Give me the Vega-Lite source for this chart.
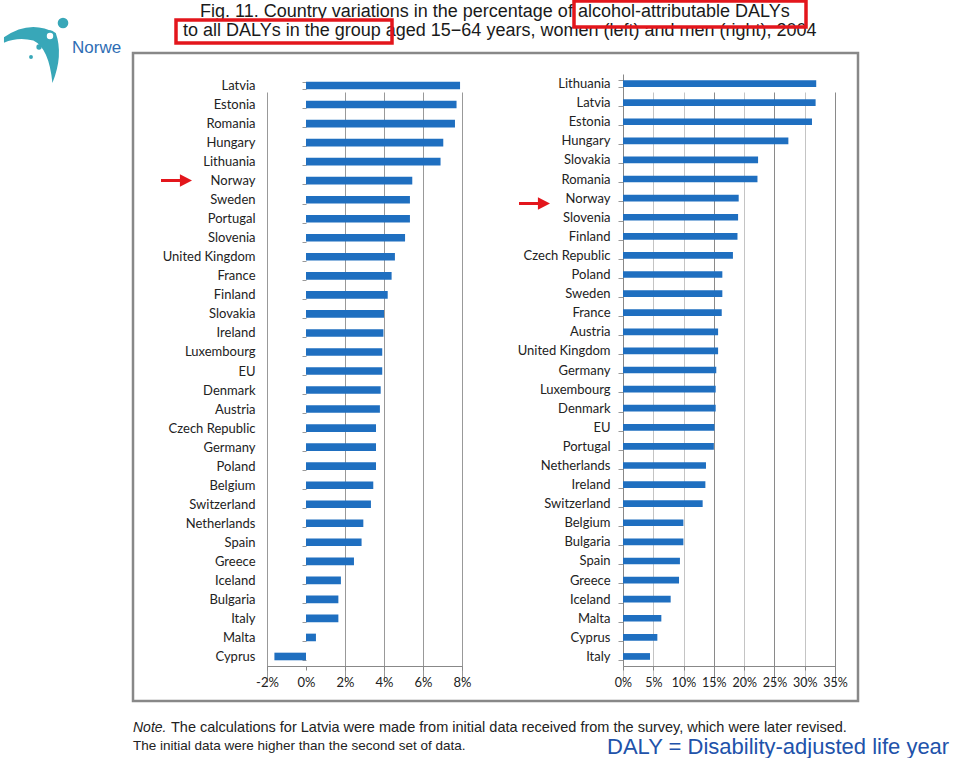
{
  "$schema": "https://vega.github.io/schema/vega-lite/v6.json",
  "width": 960,
  "height": 758,
  "autosize": {"type": "none"},
  "padding": 0,
  "background": "white",
  "config": {"view": {"stroke": null}, "font": "Liberation Sans"},
  "datasets": {
    "women": [
      {"country": "Latvia", "value": 7.9},
      {"country": "Estonia", "value": 7.72},
      {"country": "Romania", "value": 7.64},
      {"country": "Hungary", "value": 7.04},
      {"country": "Lithuania", "value": 6.9},
      {"country": "Norway", "value": 5.45},
      {"country": "Sweden", "value": 5.33},
      {"country": "Portugal", "value": 5.33},
      {"country": "Slovenia", "value": 5.08},
      {"country": "United Kingdom", "value": 4.56},
      {"country": "France", "value": 4.39},
      {"country": "Finland", "value": 4.19},
      {"country": "Slovakia", "value": 4.0},
      {"country": "Ireland", "value": 3.97},
      {"country": "Luxembourg", "value": 3.91},
      {"country": "EU", "value": 3.91},
      {"country": "Denmark", "value": 3.83},
      {"country": "Austria", "value": 3.79},
      {"country": "Czech Republic", "value": 3.59},
      {"country": "Germany", "value": 3.59},
      {"country": "Poland", "value": 3.59},
      {"country": "Belgium", "value": 3.45},
      {"country": "Switzerland", "value": 3.33},
      {"country": "Netherlands", "value": 2.94},
      {"country": "Spain", "value": 2.85},
      {"country": "Greece", "value": 2.46},
      {"country": "Iceland", "value": 1.79},
      {"country": "Bulgaria", "value": 1.66},
      {"country": "Italy", "value": 1.66},
      {"country": "Malta", "value": 0.51},
      {"country": "Cyprus", "value": -1.62}
    ],
    "men": [
      {"country": "Lithuania", "value": 31.9},
      {"country": "Latvia", "value": 31.8},
      {"country": "Estonia", "value": 31.2},
      {"country": "Hungary", "value": 27.3},
      {"country": "Slovakia", "value": 22.3},
      {"country": "Romania", "value": 22.2},
      {"country": "Norway", "value": 19.1},
      {"country": "Slovenia", "value": 19.0},
      {"country": "Finland", "value": 18.9},
      {"country": "Czech Republic", "value": 18.15},
      {"country": "Poland", "value": 16.4},
      {"country": "Sweden", "value": 16.4},
      {"country": "France", "value": 16.3},
      {"country": "Austria", "value": 15.7},
      {"country": "United Kingdom", "value": 15.7},
      {"country": "Germany", "value": 15.4},
      {"country": "Luxembourg", "value": 15.3},
      {"country": "Denmark", "value": 15.3},
      {"country": "EU", "value": 15.1},
      {"country": "Portugal", "value": 15.0},
      {"country": "Netherlands", "value": 13.7},
      {"country": "Ireland", "value": 13.6},
      {"country": "Switzerland", "value": 13.15},
      {"country": "Belgium", "value": 9.97},
      {"country": "Bulgaria", "value": 9.97},
      {"country": "Spain", "value": 9.4},
      {"country": "Greece", "value": 9.25},
      {"country": "Iceland", "value": 7.87},
      {"country": "Malta", "value": 6.33},
      {"country": "Cyprus", "value": 5.67},
      {"country": "Italy", "value": 4.46}
    ]
  },
  "layer": [
    {
      "data": {"values": [{}]},
      "mark": {"type": "point", "x": 30, "y": 54, "size": 3136, "filled": true, "fill": "#38a7b8", "opacity": 1, "strokeWidth": 0,
        "shape": "M -0.93 -0.6 Q 0 -1.25 0.92 -0.75 Q 1.2 0.04 0.8 1.04 Q 0.68 -0.21 0.12 -0.48 Q -0.43 -0.62 -0.93 -0.4 Z"},
      "encoding": {}
    },
    {
      "data": {"values": [{}]},
      "mark": {"type": "point", "x": 63, "y": 23, "size": 113, "shape": "circle", "filled": true, "fill": "#38a7b8", "opacity": 1, "strokeWidth": 0},
      "encoding": {}
    },
    {
      "data": {"values": [{}]},
      "mark": {"type": "point", "x": 50, "y": 36, "size": 80, "shape": "circle", "filled": true, "fill": "white", "stroke": "#38a7b8", "strokeWidth": 2.5, "opacity": 1},
      "encoding": {}
    },
    {
      "data": {"values": [{}]},
      "mark": {"type": "point", "x": 39, "y": 47, "size": 28, "shape": "circle", "filled": true, "fill": "#38a7b8", "opacity": 1, "strokeWidth": 0},
      "encoding": {}
    },
    {
      "data": {"values": [{}]},
      "mark": {"type": "point", "x": 31, "y": 57, "size": 15, "shape": "circle", "filled": true, "fill": "#38a7b8", "opacity": 1, "strokeWidth": 0},
      "encoding": {}
    },
    {
      "data": {"values": [{}]},
      "mark": {"type": "text", "x": 72, "y": 53, "text": "Norwe", "align": "left", "baseline": "alphabetic", "fontSize": 17, "color": "#2e6db4"},
      "encoding": {}
    },
    {
      "data": {"values": [{}]},
      "mark": {"type": "rect", "x": 123, "x2": 134, "y": 35, "y2": 62, "fill": "white"},
      "encoding": {}
    },
    {
      "data": {"values": [{}]},
      "mark": {"type": "rect", "x": 133, "x2": 858, "y": 53, "y2": 701, "fill": "white", "fillOpacity": 0, "stroke": "#888888", "strokeWidth": 2.5},
      "encoding": {}
    },
    {
      "data": {"values": [{}]},
      "mark": {"type": "text", "x": 200, "y": 17, "text": "Fig. 11. Country variations in the percentage of alcohol-attributable DALYs", "align": "left", "baseline": "alphabetic", "fontSize": 18, "color": "#1a1a1a"},
      "encoding": {}
    },
    {
      "data": {"values": [{}]},
      "mark": {"type": "text", "x": 183, "y": 36, "text": "to all DALYs in the group aged 15−64 years, women (left) and men (right), 2004", "align": "left", "baseline": "alphabetic", "fontSize": 18, "color": "#1a1a1a"},
      "encoding": {}
    },
    {
      "data": {"values": [{}]},
      "mark": {"type": "rect", "x": 574, "x2": 806, "y": 1, "y2": 27, "fill": "white", "fillOpacity": 0, "stroke": "#e3161c", "strokeWidth": 3.5},
      "encoding": {}
    },
    {
      "data": {"values": [{}]},
      "mark": {"type": "rect", "x": 176, "x2": 392, "y": 20, "y2": 43, "fill": "white", "fillOpacity": 0, "stroke": "#e3161c", "strokeWidth": 3.5},
      "encoding": {}
    },
    {
      "data": {"name": "women"},
      "mark": {"type": "bar", "color": "#1f6fc0"},
      "encoding": {
        "y": {
          "field": "country", "type": "nominal", "sort": null,
          "scale": {"range": [76, 666], "paddingInner": 0.6, "paddingOuter": 0.3},
          "axis": {"title": null, "orient": "left", "offset": -306, "domain": false, "ticks": true, "tickBand": "extent", "tickSize": 4, "tickColor": "#999999", "labelPadding": 47, "labelFont": "Lato", "labelFontSize": 13, "labelColor": "#222222", "grid": false}
        },
        "x": {
          "field": "value", "type": "quantitative",
          "scale": {"domain": [-2, 8], "range": [267, 462], "nice": false, "zero": false},
          "axis": {"title": null, "orient": "bottom", "offset": -92, "values": [-2, 0, 2, 4, 6, 8], "labelExpr": "datum.value + '%'", "labelOverlap": false, "labelFlush": false, "grid": true,
            "gridColor": {"condition": {"test": "datum.value === 0", "value": "transparent"}, "value": "#999999"},
            "domainColor": "#888888", "tickColor": "#888888", "tickSize": 4, "labelPadding": 6, "labelFont": "Lato", "labelFontSize": 13, "labelColor": "#222222"}
        }
      }
    },
    {
      "data": {"name": "men"},
      "mark": {"type": "bar", "color": "#1f6fc0"},
      "encoding": {
        "y": {
          "field": "country", "type": "nominal", "sort": null,
          "scale": {"range": [74, 666], "paddingInner": 0.65, "paddingOuter": 0.325},
          "axis": {"title": null, "orient": "left", "offset": -623, "domain": true, "domainColor": "#888888", "ticks": true, "tickBand": "extent", "tickSize": 5, "tickColor": "#999999", "labelPadding": 8, "labelFont": "Lato", "labelFontSize": 13, "labelColor": "#222222", "grid": false}
        },
        "x": {
          "field": "value", "type": "quantitative",
          "scale": {"domain": [0, 35], "range": [623, 835], "nice": false, "zero": false},
          "axis": {"title": null, "orient": "bottom", "offset": -92, "values": [0, 5, 10, 15, 20, 25, 30, 35], "labelExpr": "datum.value + '%'", "labelOverlap": false, "labelFlush": false, "grid": true,
            "gridColor": {"condition": {"test": "datum.value === 15 || datum.value === 25 || datum.value === 35", "value": "#8a8a8a"}, "value": "#c4c4c4"},
            "domainColor": "#888888", "tickColor": "#888888", "tickSize": 4, "labelPadding": 6, "labelFont": "Lato", "labelFontSize": 12.5, "labelColor": "#222222"}
        }
      }
    },
    {
      "data": {"values": [{}]},
      "mark": {"type": "point", "x": 176.5, "y": 180.5, "size": 961, "filled": true, "fill": "#e3161c", "opacity": 1, "strokeWidth": 0,
        "shape": "M -1 -0.1 L 0.22 -0.1 L 0.22 -0.4 L 1 0 L 0.22 0.4 L 0.22 0.1 L -1 0.1 Z"},
      "encoding": {}
    },
    {
      "data": {"values": [{}]},
      "mark": {"type": "point", "x": 534.5, "y": 203.5, "size": 961, "filled": true, "fill": "#e3161c", "opacity": 1, "strokeWidth": 0,
        "shape": "M -1 -0.1 L 0.22 -0.1 L 0.22 -0.4 L 1 0 L 0.22 0.4 L 0.22 0.1 L -1 0.1 Z"},
      "encoding": {}
    },
    {
      "data": {"values": [{}]},
      "mark": {"type": "text", "x": 133, "y": 732, "text": "Note.", "align": "left", "baseline": "alphabetic", "fontSize": 14, "fontStyle": "italic", "color": "#222222"},
      "encoding": {}
    },
    {
      "data": {"values": [{}]},
      "mark": {"type": "text", "x": 171, "y": 732, "text": "The calculations for Latvia were made from initial data received from the survey, which were later revised.", "align": "left", "baseline": "alphabetic", "fontSize": 14.5, "color": "#222222"},
      "encoding": {}
    },
    {
      "data": {"values": [{}]},
      "mark": {"type": "text", "x": 133, "y": 750, "text": "The initial data were higher than the second set of data.", "align": "left", "baseline": "alphabetic", "fontSize": 13.5, "color": "#222222"},
      "encoding": {}
    },
    {
      "data": {"values": [{}]},
      "mark": {"type": "text", "x": 607, "y": 754, "text": "DALY = Disability-adjusted life year", "align": "left", "baseline": "alphabetic", "fontSize": 22, "color": "#2152aa"},
      "encoding": {}
    }
  ],
  "resolve": {
    "scale": {"x": "independent", "y": "independent"},
    "axis": {"x": "independent", "y": "independent"}
  }
}
